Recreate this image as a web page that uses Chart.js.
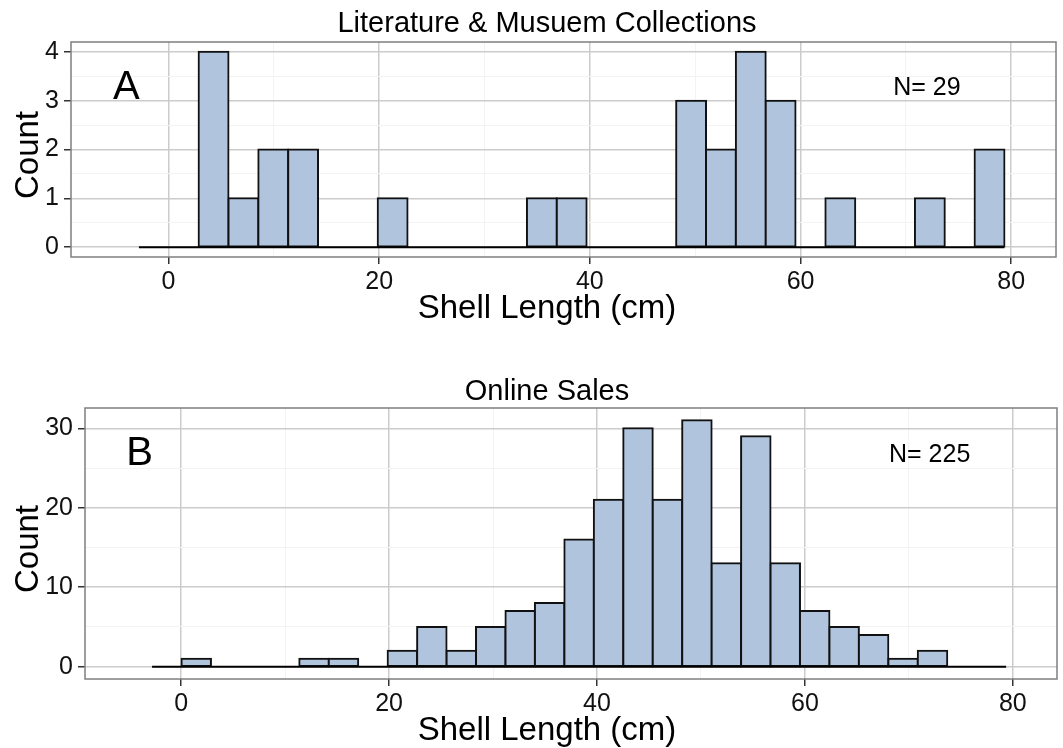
<!DOCTYPE html>
<html>
<head>
<meta charset="utf-8">
<script src="https://cdn.jsdelivr.net/npm/chart.js@4.4.1/dist/chart.umd.min.js"></script>
<style>
  html, body { margin: 0; padding: 0; background: #fff; }
  canvas { display: block; }
</style>
</head>
<body>
<canvas id="chartA" width="1063" height="374"></canvas>
<canvas id="chartB" width="1063" height="374"></canvas>
<script>
// histogram bins (both panels use the same breaks)
const binStart = -2.8;
const binWidth = 2.833;

// counts per bin
const countsA = [0, 0, 4, 1, 2, 2, 0, 0, 1, 0, 0, 0, 0, 1, 1, 0, 0, 0, 3, 2, 4, 3, 0, 1, 0, 0, 1, 0, 2];
const countsB = [0, 1, 0, 0, 0, 1, 1, 0, 2, 5, 2, 5, 7, 8, 16, 21, 30, 21, 31, 13, 29, 13, 7, 5, 4, 1, 2, 0, 0];

const xTicks = [0, 20, 40, 60, 80];
const yTicksA = [0, 1, 2, 3, 4];
const yTicksB = [0, 10, 20, 30];

const FONT = "'Liberation Sans', Arial, Helvetica, sans-serif";

function withMinor(major) {
    const out = major.slice();
    for (let i = 0; i < major.length - 1; i++) out.push((major[i] + major[i + 1]) / 2);
    return out.sort((a, b) => a - b);
}

// frame, titles and the in-panel labels
const panelText = {
    id: 'panelText',
    afterDraw(chart, args, o) {
        const ctx = chart.ctx;
        const a = chart.chartArea;
        const xs = chart.scales.x, ys = chart.scales.y;
        ctx.save();
        ctx.strokeStyle = '#7f7f7f';
        ctx.lineWidth = 1.5;
        ctx.strokeRect(a.left, a.top, a.right - a.left, a.bottom - a.top);

        ctx.fillStyle = '#000';
        ctx.textAlign = 'center';
        ctx.textBaseline = 'alphabetic';
        ctx.font = '29px ' + FONT;
        ctx.fillText(o.title, 547, o.titleY);
        ctx.font = '33px ' + FONT;
        ctx.fillText('Shell Length (cm)', 547, a.bottom + 61);

        ctx.save();
        ctx.translate(38, o.countY);
        ctx.rotate(-Math.PI / 2);
        ctx.fillText('Count', 0, 0);
        ctx.restore();

        ctx.textBaseline = 'middle';
        ctx.font = '40px ' + FONT;
        ctx.fillText(o.letter, xs.getPixelForValue(-4), ys.getPixelForValue(o.letterY));
        ctx.font = '25px ' + FONT;
        ctx.fillText(o.nText, xs.getPixelForValue(72), ys.getPixelForValue(o.nY));
        ctx.restore();
    }
};

function makeHist(canvasId, counts, yTicks, cfg) {
    const bars = counts.map((c, i) => ({ x: binStart + (i + 0.5) * binWidth, y: c === 0 ? null : c }));
    const base = [
        { x: binStart, y: 0 },
        { x: binStart + counts.length * binWidth, y: 0 }
    ];
    const xAll = withMinor(xTicks);
    const yAll = withMinor(yTicks);

    const gridStyle = (major) => ({
        color: (c) => major.includes(c.tick && c.tick.value) ? '#cccccc' : '#f3f3f3',
        lineWidth: (c) => major.includes(c.tick && c.tick.value) ? 1.5 : 1,
        tickColor: (c) => major.includes(c.tick && c.tick.value) ? '#333333' : 'rgba(0,0,0,0)',
        tickLength: 7,
        tickWidth: 1.5,
        drawTicks: true,
        offset: false
    });

    return new Chart(document.getElementById(canvasId), {
        type: 'bar',
        data: {
            datasets: [
                {
                    type: 'line',
                    data: base,
                    borderColor: '#000',
                    borderWidth: 2,
                    pointRadius: 0,
                    order: 0
                },
                {
                    data: bars,
                    backgroundColor: '#b0c4de',
                    borderColor: '#111',
                    borderWidth: 2,
                    borderSkipped: false,
                    inflateAmount: 1,
                    barPercentage: 1,
                    categoryPercentage: 1,
                    grouped: false,
                    order: 1
                }
            ]
        },
        options: {
            responsive: false,
            animation: false,
            layout: { padding: { left: 0, right: cfg.padRight, top: cfg.top, bottom: 0 } },
            plugins: {
                legend: { display: false },
                tooltip: { enabled: false },
                panelText: cfg.text
            },
            scales: {
                x: {
                    type: 'linear',
                    min: -9.25,
                    max: 84.25,
                    offset: false,
                    afterBuildTicks: (s) => { s.ticks = xAll.map(v => ({ value: v })); },
                    afterFit: (s) => { s.height = cfg.xHeight; },
                    grid: gridStyle(xTicks),
                    border: { display: false },
                    ticks: {
                        autoSkip: false,
                        maxRotation: 0,
                        padding: 3,
                        color: '#111',
                        font: { family: FONT, size: 25 },
                        callback: (v) => xTicks.includes(v) ? String(v) : ''
                    }
                },
                y: {
                    min: cfg.yMin,
                    max: cfg.yMax,
                    afterBuildTicks: (s) => { s.ticks = yAll.map(v => ({ value: v })); },
                    afterFit: (s) => { s.width = cfg.left; },
                    grid: gridStyle(yTicks),
                    border: { display: false },
                    ticks: {
                        autoSkip: false,
                        padding: 5,
                        color: '#111',
                        font: { family: FONT, size: 25 },
                        callback: (v) => yTicks.includes(v) ? String(v) : ''
                    }
                }
            }
        },
        plugins: [panelText]
    });
}

makeHist('chartA', countsA, yTicksA, {
    left: 71, top: 42, padRight: 7, xHeight: 117,
    yMin: -0.2, yMax: 4.2,
    text: { title: 'Literature & Musuem Collections', titleY: 32, countY: 155, letter: 'A', letterY: 3.25, nText: 'N= 29', nY: 3.25 }
});

makeHist('chartB', countsB, yTicksB, {
    left: 85, top: 34, padRight: 6, xHeight: 69,
    yMin: -1.55, yMax: 32.55,
    text: { title: 'Online Sales', titleY: 26, countY: 175, letter: 'B', letterY: 26.8, nText: 'N= 225', nY: 26.6 }
});
</script>
</body>
</html>
